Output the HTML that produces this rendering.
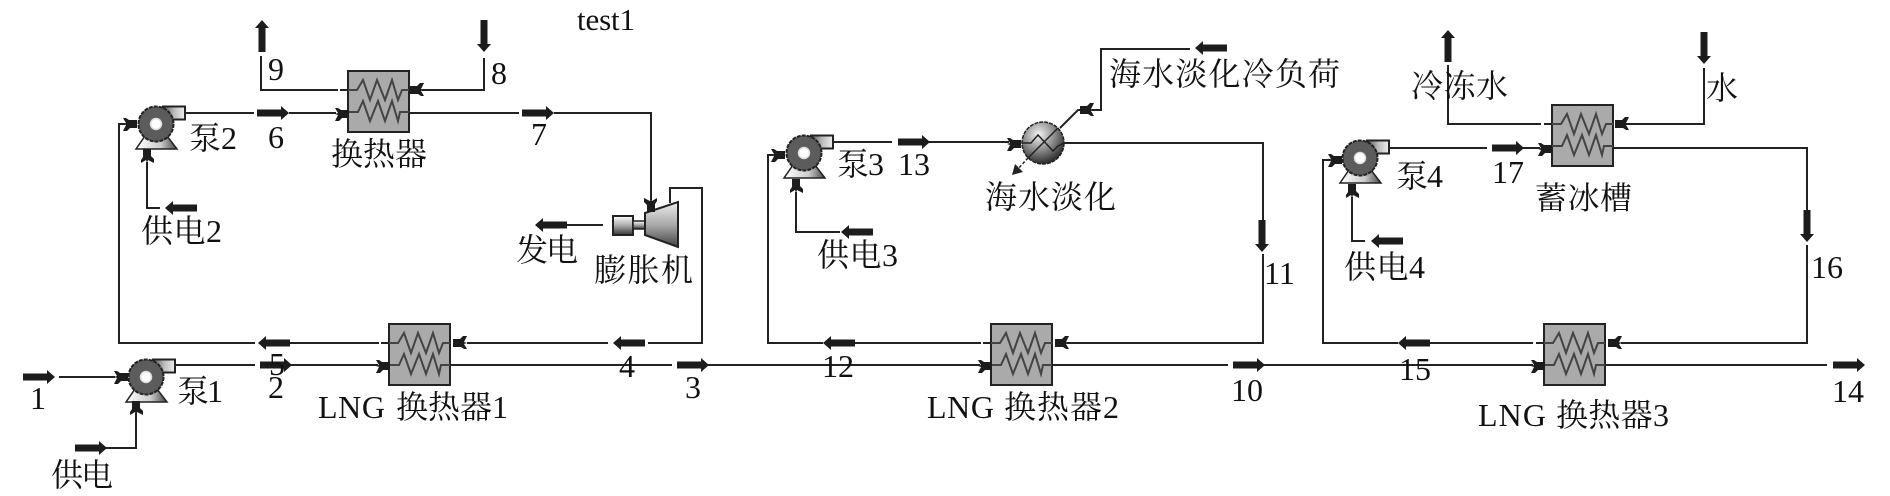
<!DOCTYPE html>
<html><head><meta charset="utf-8"><style>
html,body{margin:0;padding:0;background:#fff;width:1890px;height:496px;overflow:hidden}
svg{display:block}
text{font-family:"Liberation Serif","Noto Serif CJK SC",serif;fill:#111;font-size:32px}
.n{font-size:32px}
.l{fill:none;stroke:#222;stroke-width:2}
.c{fill:none;stroke:#444;stroke-width:2}
</style></head><body>
<svg width="1890" height="496" viewBox="0 0 1890 496" xmlns="http://www.w3.org/2000/svg">
<defs>
<linearGradient id="gv" x1="0" y1="0" x2="0" y2="1"><stop offset="0" stop-color="#fff"/><stop offset=".5" stop-color="#aaa"/><stop offset="1" stop-color="#333"/></linearGradient>
<linearGradient id="go" x1="0" y1="0" x2="1" y2="0"><stop offset="0" stop-color="#555"/><stop offset=".5" stop-color="#bbb"/><stop offset="1" stop-color="#eee"/></linearGradient>
<linearGradient id="gb" x1="0" y1="0" x2="1" y2="0"><stop offset="0" stop-color="#fff"/><stop offset=".6" stop-color="#ccc"/><stop offset="1" stop-color="#444"/></linearGradient>
<linearGradient id="gt" x1="0" y1="0" x2="0" y2="1"><stop offset="0" stop-color="#eee"/><stop offset=".5" stop-color="#aaa"/><stop offset="1" stop-color="#444"/></linearGradient>
<radialGradient id="gs" cx=".4" cy=".3" r=".75"><stop offset="0" stop-color="#f4f4f4"/><stop offset=".5" stop-color="#8c8c8c"/><stop offset="1" stop-color="#1e1e1e"/></radialGradient>
<polygon id="arr" points="0,-3.5 24,-3.5 24,-7 32,0 24,7 24,3.5 0,3.5" fill="#1c1c1c"/>
<polygon id="con" points="0,-6 3,-6 6,-4 14,-4 14,4 7,4 4,7 0,7 3,1 0,0 3,-1" fill="#1c1c1c"/>
<g id="hx">
<rect x="0" y="0" width="61" height="61" fill="#aaa" stroke="#222" stroke-width="2"/>
<polyline class="c" points="0,19 9,19 15,9 22,29 29,9 37,29 44,9 50,29 54,19 61,19"/>
<polyline class="c" points="0,41 10,41 15,30 22,50 30,30 37,50 44,30 50,50 52,41 61,41"/>
</g>
<g id="pump">
<polygon points="-11,12 11,12 21,25 -20,25" fill="url(#gb)" stroke="#222" stroke-width="1.5"/>
<rect x="7" y="-17.5" width="22" height="13" fill="url(#go)" stroke="#222" stroke-width="2"/>
<circle cx="0" cy="0" r="17.5" fill="#5c5c5c" stroke="#222" stroke-width="2" stroke-dasharray="4 1"/>
<circle cx="0" cy="0" r="5.5" fill="#fff" stroke="#ddd" stroke-width="1.5"/>
</g>
</defs>

<!-- heat exchangers -->
<use href="#hx" x="348" y="71"/>
<use href="#hx" x="389" y="324"/>
<use href="#hx" x="991" y="324"/>
<use href="#hx" x="1552" y="105"/>
<use href="#hx" x="1544" y="324"/>

<!-- pumps -->
<use href="#pump" x="146" y="377"/>
<use href="#pump" x="156" y="124"/>
<use href="#pump" x="804" y="153"/>
<use href="#pump" x="1360" y="158"/>

<!-- main lines -->
<polyline class="l" points="59,377 115,377"/>
<polyline class="l" points="105,448 136,448 136,413"/>
<polyline class="l" points="174,365 255,365"/>
<polyline class="l" points="290,365 378,365"/>
<polyline class="l" points="451,365 672,365"/>
<polyline class="l" points="708,365 980,365"/>
<polyline class="l" points="1053,365 1228,365"/>
<polyline class="l" points="1264,365 1533,365"/>
<polyline class="l" points="1606,365 1827,365"/>

<polyline class="l" points="467,343 608,343"/>
<polyline class="l" points="648,343 702,343 702,188 670,188 670,203"/>
<polyline class="l" points="379,343 290,343"/>
<line class="l" x1="381" y1="343" x2="389" y2="343"/>
<polyline class="l" points="255,343 119,343 119,124 125,124"/>

<!-- top loop -->
<polyline class="l" points="186,113 254,113"/>
<polyline class="l" points="289,113 336,113"/>
<polyline class="l" points="409,113 519,113"/>
<polyline class="l" points="554,113 651,113 651,200"/>
<polyline class="l" points="338,90 261,90 261,56"/>
<line class="l" x1="340" y1="90" x2="348" y2="90"/>
<polyline class="l" points="484,58 484,90 422,90"/>
<polyline class="l" points="147,162 147,208 160,208"/>
<polyline class="l" points="567,225 603,225"/>

<!-- second loop -->
<polyline class="l" points="823,343 768,343 768,155 773,155"/>
<polyline class="l" points="855,343 981,343"/>
<line class="l" x1="983" y1="343" x2="991" y2="343"/>
<polyline class="l" points="833,142 892,142"/>
<polyline class="l" points="929,142 1009,142"/>
<polyline class="l" points="796,192 796,232 840,232"/>
<polyline class="l" points="1064,143 1263,143 1263,220"/>
<polyline class="l" points="1263,254 1263,343 1067,343"/>
<polyline class="l" stroke-width="1.5" points="1060,128 1078,110 1082,110"/>
<polyline class="l" points="1092,110 1101,110 1101,49 1190,49"/>
<line x1="1028" y1="158" x2="1016" y2="171" stroke="#222" stroke-width="1.5" stroke-dasharray="3 2"/>
<polygon points="1012,175 1015,164 1023,172" fill="#222"/>

<!-- third loop -->
<polyline class="l" points="1398,343 1323,343 1323,160 1330,160"/>
<polyline class="l" points="1430,343 1533,343"/>
<line class="l" x1="1536" y1="343" x2="1544" y2="343"/>
<polyline class="l" points="1390,148 1487,148"/>
<polyline class="l" points="1523,148 1540,148"/>
<polyline class="l" points="1352,197 1352,241 1365,241"/>
<polyline class="l" points="1541,124 1448,124 1448,65"/>
<line class="l" x1="1544" y1="124" x2="1552" y2="124"/>
<polyline class="l" points="1704,68 1704,124 1626,124"/>
<polyline class="l" points="1613,148 1807,148 1807,211"/>
<polyline class="l" points="1807,245 1807,343 1621,343"/>

<!-- expander -->
<rect x="613" y="216" width="20" height="19" fill="url(#gv)" stroke="#222" stroke-width="2"/>
<rect x="633" y="221" width="12" height="8" fill="url(#gv)" stroke="#222" stroke-width="1.5"/>
<polygon points="645,213 678,202 678,247 645,235" fill="url(#gt)" stroke="#222" stroke-width="2"/>

<!-- desalination -->
<circle cx="1043" cy="143" r="21" fill="url(#gs)" stroke="#222" stroke-width="1.5" stroke-dasharray="4 1"/>
<polyline points="1022,143 1031,143 1038,135 1053,151 1058,146 1064,143" fill="none" stroke="#222" stroke-width="1.5"/>
<line x1="1058" y1="128" x2="1028" y2="158" stroke="#222" stroke-width="1.5"/>

<!-- block arrows -->
<use href="#arr" transform="translate(23,377)"/>
<use href="#arr" transform="translate(75,448)"/>
<use href="#arr" transform="translate(260,365)"/>
<use href="#arr" transform="translate(290,343) rotate(180)"/>
<use href="#arr" transform="translate(257,113)"/>
<use href="#arr" transform="translate(522,113)"/>
<use href="#arr" transform="translate(197,208) rotate(180)"/>
<use href="#arr" transform="translate(262,52) rotate(-90)"/>
<use href="#arr" transform="translate(484,20) rotate(90)"/>
<use href="#arr" transform="translate(567,225) rotate(180)"/>
<use href="#arr" transform="translate(645,343) rotate(180)"/>
<use href="#arr" transform="translate(677,365)"/>
<use href="#arr" transform="translate(855,343) rotate(180)"/>
<use href="#arr" transform="translate(898,142)"/>
<use href="#arr" transform="translate(873,232) rotate(180)"/>
<use href="#arr" transform="translate(1227,48) rotate(180)"/>
<use href="#arr" transform="translate(1262,220) rotate(90)"/>
<use href="#arr" transform="translate(1233,365)"/>
<use href="#arr" transform="translate(1430,343) rotate(180)"/>
<use href="#arr" transform="translate(1403,241) rotate(180)"/>
<use href="#arr" transform="translate(1492,148)"/>
<use href="#arr" transform="translate(1448,62) rotate(-90)"/>
<use href="#arr" transform="translate(1704,32) rotate(90)"/>
<use href="#arr" transform="translate(1807,210) rotate(90)"/>
<use href="#arr" transform="translate(1833,365)"/>

<!-- port connectors -->
<use href="#con" transform="translate(114,377)"/>
<use href="#con" transform="translate(123,124)"/>
<use href="#con" transform="translate(771,155)"/>
<use href="#con" transform="translate(1328,160)"/>
<use href="#con" transform="translate(335,114)"/>
<use href="#con" transform="translate(376,366)"/>
<use href="#con" transform="translate(978,366)"/>
<use href="#con" transform="translate(1538,149)"/>
<use href="#con" transform="translate(1531,366)"/>
<use href="#con" transform="translate(1007,144)"/>
<use href="#con" transform="translate(136,415) rotate(-90)"/>
<use href="#con" transform="translate(147,163) rotate(-90)"/>
<use href="#con" transform="translate(796,193) rotate(-90)"/>
<use href="#con" transform="translate(1352,198) rotate(-90)"/>
<use href="#con" transform="translate(651,198) rotate(90)"/>
<use href="#con" transform="translate(424,90) rotate(180)"/>
<use href="#con" transform="translate(467,343) rotate(180)"/>
<use href="#con" transform="translate(1069,343) rotate(180)"/>
<use href="#con" transform="translate(1622,343) rotate(180)"/>
<use href="#con" transform="translate(1629,124) rotate(180)"/>
<use href="#con" transform="translate(1094,110) rotate(180)"/>

<!-- number labels -->
<text style="font-size:31px" x="577" y="30" textLength="58">test1</text>
<text class="n" x="268" y="80">9</text>
<text class="n" x="491" y="84">8</text>
<text class="n" x="268" y="148">6</text>
<text class="n" x="531" y="145">7</text>
<text class="n" x="30" y="409">1</text>
<text class="n" x="269" y="375">5</text>
<text class="n" x="268" y="398">2</text>
<text class="n" x="619" y="377">4</text>
<text class="n" x="685" y="398">3</text>
<text class="n" x="822" y="377">12</text>
<text class="n" x="898" y="175">13</text>
<text class="n" x="1231" y="401">10</text>
<text class="n" x="1264" y="284">11</text>
<text class="n" x="1399" y="380">15</text>
<text class="n" x="1832" y="402">14</text>
<text class="n" x="1811" y="278">16</text>
<text class="n" x="1492" y="183">17</text>

<!-- Chinese labels -->
<text x="189" y="149" textLength="48">泵2</text>
<text x="331" y="165" textLength="96">换热器</text>
<text x="141" y="242" textLength="81">供电2</text>
<text x="177" y="402" textLength="46">泵1</text>
<text x="318" y="418" textLength="67">LNG</text>
<text x="396" y="418" textLength="112">换热器1</text>
<text x="51" y="486" textLength="62">供电</text>
<text x="516" y="261" textLength="62">发电</text>
<text x="594" y="281" textLength="99">膨胀机</text>
<text x="837" y="175" textLength="47">泵3</text>
<text x="817" y="266" textLength="81">供电3</text>
<text x="927" y="418" textLength="67">LNG</text>
<text x="1004" y="418" textLength="115">换热器2</text>
<text x="985" y="208" textLength="131">海水淡化</text>
<text x="1109" y="85" textLength="231">海水淡化冷负荷</text>
<text x="1396" y="187" textLength="47">泵4</text>
<text x="1344" y="278" textLength="81">供电4</text>
<text x="1411" y="97" textLength="97">冷冻水</text>
<text x="1706" y="99">水</text>
<text x="1535" y="209" textLength="97">蓄冰槽</text>
<text x="1478" y="426" textLength="68">LNG</text>
<text x="1556" y="426" textLength="113">换热器3</text>
</svg>
</body></html>
